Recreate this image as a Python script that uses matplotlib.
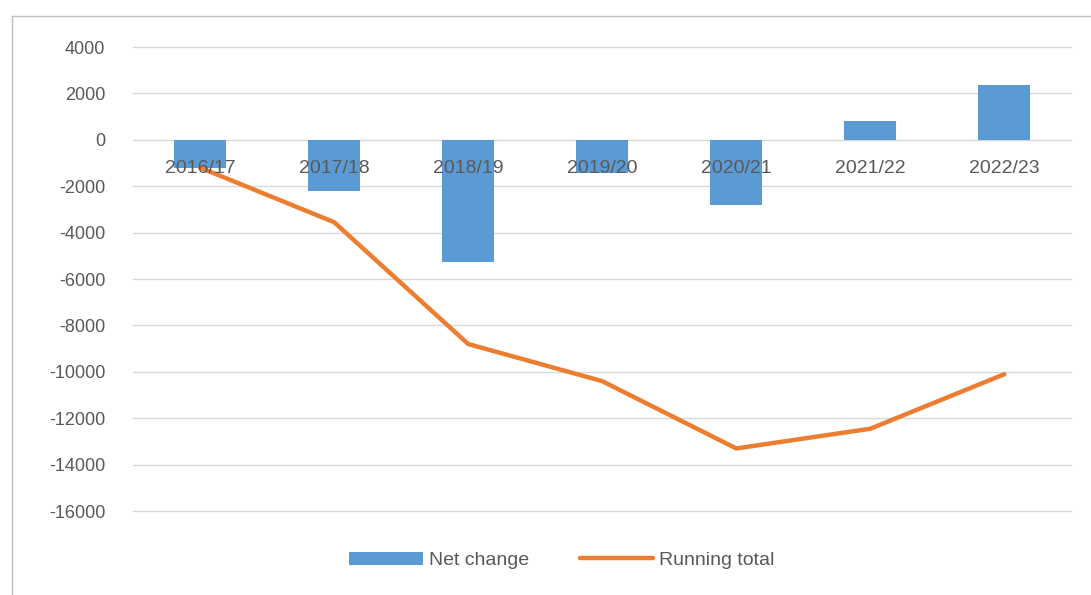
import matplotlib.pyplot as plt
from matplotlib.lines import Line2D
import numpy as np

# values
years = ["2016/17", "2017/18", "2018/19", "2019/20", "2020/21", "2021/22", "2022/23"]
net_change = [-1200, -2200, -5250, -1450, -2800, 820, 2350]
running_total = [-1200, -3550, -8800, -10400, -13300, -12450, -10100]

BLUE = "#5B9BD5"
ORANGE = "#ED7D31"
TEXT = "#595959"

plt.rcParams['font.family'] = ['Liberation Sans', 'DejaVu Sans']
plt.rcParams['axes.unicode_minus'] = False

fig = plt.figure(figsize=(10.91, 5.95), dpi=100)
ax = fig.add_axes([0.122, 0.141, 0.86, 0.780])

x = np.arange(len(years))
bars = ax.bar(x, net_change, width=0.39, color=BLUE, zorder=2, label="Net change")
line, = ax.plot(x, running_total, color=ORANGE, linewidth=3.2, zorder=3,
                solid_capstyle='round', label="Running total")

ax.set_xlim(-0.5, len(years) - 0.5)
ax.set_ylim(-16000, 4000)
ax.set_yticks(range(-16000, 4001, 2000))
ax.tick_params(axis='y', length=0, pad=20, labelsize=13, labelcolor=TEXT)
ax.set_xticks([])
ax.grid(axis='y', color="#D9D9D9", linewidth=1, zorder=0)
for gl in ax.get_ygridlines():
    gl.set_clip_on(False)
for s in ax.spines.values():
    s.set_visible(False)

# category labels sit just under the zero line, as in Excel
for i, lab in enumerate(years):
    ax.text(i, -1250, lab, ha='center', va='center', fontsize=14,
            color=TEXT, zorder=4)

fig.legend(handles=[bars, line], labels=["Net change", "Running total"],
           loc='center', bbox_to_anchor=(0.515, 0.058), ncol=2, frameon=False,
           fontsize=14, labelcolor=TEXT, handlelength=3.8, handletextpad=0.3,
           columnspacing=2.6)

# chart area border (left and top only visible)
fig.add_artist(Line2D([0.011, 0.011], [0.0, 0.973], color="#BFBFBF", linewidth=1))
fig.add_artist(Line2D([0.011, 1.0], [0.973, 0.973], color="#BFBFBF", linewidth=1))

fig.savefig("out.png", dpi=100)
